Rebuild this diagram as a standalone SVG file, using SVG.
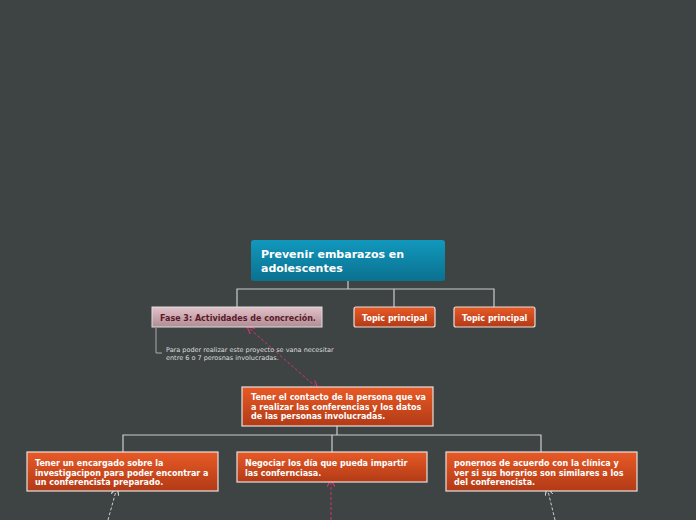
<svg xmlns="http://www.w3.org/2000/svg" width="696" height="520" viewBox="0 0 696 520">
<defs>
<linearGradient id="og" x1="0" y1="0" x2="0" y2="1"><stop offset="0" stop-color="#e85a26"/><stop offset="1" stop-color="#b23a16"/></linearGradient>
<linearGradient id="bg" x1="0" y1="0" x2="0" y2="1"><stop offset="0" stop-color="#1198bd"/><stop offset="1" stop-color="#0b7190"/></linearGradient>
<linearGradient id="pg" x1="0" y1="0" x2="0" y2="1"><stop offset="0" stop-color="#e2c3c9"/><stop offset="1" stop-color="#b08c94"/></linearGradient>
<marker id="ar" markerWidth="8" markerHeight="8" refX="4" refY="4" orient="auto-start-reverse" markerUnits="userSpaceOnUse"><path d="M0,0 L8,4 L0,8" fill="none" stroke-width="1.2" stroke="context-stroke"/></marker>
<marker id="ap" markerWidth="8" markerHeight="8" refX="4" refY="4" orient="auto-start-reverse" markerUnits="userSpaceOnUse"><path d="M0,0 L8,4 L0,8" fill="none" stroke="#d2336a" stroke-width="1.2"/></marker>
<marker id="ag" markerWidth="8" markerHeight="8" refX="4" refY="4" orient="auto" markerUnits="userSpaceOnUse"><path d="M0,0 L8,4 L0,8" fill="none" stroke="#ccc" stroke-width="1.2"/></marker>
<marker id="ax" markerWidth="8" markerHeight="8" refX="4" refY="4" orient="auto" markerUnits="userSpaceOnUse"><path d="M0,0 L8,4 L0,8" fill="none" stroke="#d2336a" stroke-width="1.2"/></marker>
</defs>
<style>
text{font-family:"DejaVu Sans","Liberation Sans",sans-serif;font-weight:bold;fill:#fff}
.o{fill:url(#og);stroke:#e8e0dc;stroke-width:1.2}
.t{font-size:8px}
</style>
<rect width="696" height="520" fill="#3e4444"/>
<g id="connectors" fill="none">
<path d="M348 281V289H237V307M348 289H394V307M348 289H494V307" stroke="#ccc" stroke-width="1.2"/>
<path d="M337 426V435H123V452M337 435H332V452M337 435H541V452" stroke="#ccc" stroke-width="1.2"/>
<path d="M156 328V353H162" stroke="#aaa" stroke-width="1"/>
<path d="M250 329L315 386" stroke="#d2336a" stroke-dasharray="3,2" marker-start="url(#ap)" marker-end="url(#ap)"/>
<path d="M108 520L116 491" stroke="#ccc" stroke-dasharray="3,2" marker-end="url(#ag)"/>
<path d="M331 520V483" stroke="#d2336a" stroke-dasharray="3,2" marker-end="url(#ax)"/>
<path d="M555 520L548 491" stroke="#ccc" stroke-dasharray="3,2" marker-end="url(#ag)"/>
</g>
<g id="root"><rect x="251" y="240" width="194" height="41" rx="3" fill="url(#bg)"/>
<text x="261" y="258" font-size="11">Prevenir embarazos en</text><text x="261" y="272" font-size="11">adolescentes</text></g>
<g id="fase3"><rect x="152" y="307" width="170" height="20" fill="url(#pg)" stroke="#ddd"/>
<text x="160" y="321" class="t" style="fill:#5a1a2a">Fase 3: Actividades de concreción.</text></g>
<g id="topic1"><rect class="o" x="354" y="307" width="81" height="20" rx="2"/><text x="362" y="321" class="t">Topic principal</text></g>
<g id="topic2"><rect class="o" x="454" y="307" width="81" height="20" rx="2"/><text x="462" y="321" class="t">Topic principal</text></g>
<g id="note"><text x="166" y="352" font-size="6.5" style="font-weight:normal;fill:#ddd">Para poder realizar este proyecto se vana necesitar</text>
<text x="166" y="360" font-size="6.5" style="font-weight:normal;fill:#ddd">entre 6 o 7 perosnas involucradas.</text></g>
<g id="contacto"><rect class="o" x="242" y="387" width="191" height="39"/>
<text x="251" y="400" class="t">Tener el contacto de la persona que va</text><text x="251" y="409.5" class="t">a realizar las conferencias y los datos</text><text x="251" y="419" class="t">de las personas involucradas.</text></g>
<g id="n1"><rect class="o" x="27" y="452" width="191" height="39"/>
<text x="35" y="466" class="t">Tener un encargado sobre la</text><text x="35" y="475.5" class="t">investigacipon para poder encontrar a</text><text x="35" y="485" class="t">un conferencista preparado.</text></g>
<g id="n2"><rect class="o" x="237" y="452" width="190" height="30"/>
<text x="245" y="466" class="t">Negociar los día que pueda impartir</text><text x="245" y="475.5" class="t">las confernciasa.</text></g>
<g id="n3"><rect class="o" x="446" y="452" width="191" height="39"/>
<text x="454" y="466" class="t">ponernos de acuerdo con la clínica y</text><text x="454" y="475.5" class="t">ver si sus horarios son similares a los</text><text x="454" y="485" class="t">del conferencista.</text></g>
</svg>
